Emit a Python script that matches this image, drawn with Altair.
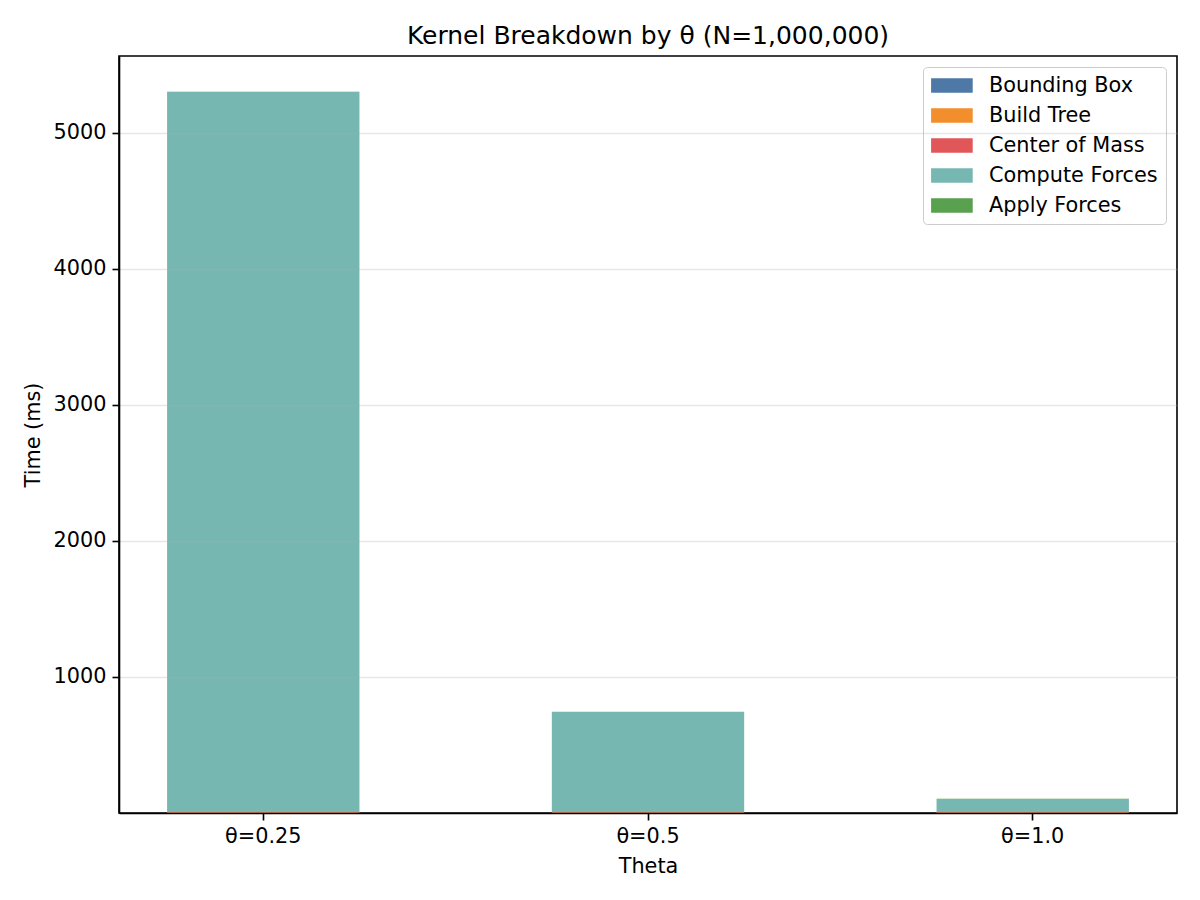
import altair as alt
import pandas as pd

thetas = ["θ=0.25", "θ=0.5", "θ=1.0"]
kernels = ["Bounding Box", "Build Tree", "Center of Mass", "Compute Forces", "Apply Forces"]
colors = ["#4e79a7", "#f28e2b", "#e15759", "#76b7b2", "#59a14f"]
bounding_box = [1.2, 1.2, 1.2]
build_tree = [4.0, 4.0, 4.0]
center_of_mass = [1.5, 1.5, 1.5]
compute_forces = [5295.0, 737.0, 97.0]
apply_forces = [0.6, 0.6, 0.6]
y_ticks = [1000, 2000, 3000, 4000, 5000]

series = [bounding_box, build_tree, center_of_mass, compute_forces, apply_forces]
rows = []
for ki, (k, vals) in enumerate(zip(kernels, series)):
    for t, v in zip(thetas, vals):
        rows.append({"theta": t, "kernel": k, "time": v, "order": ki})
df = pd.DataFrame(rows)

font = "DejaVu Sans"
fs = 20.8
lw = 1.6

common_axis = dict(labelFontSize=fs, titleFontSize=fs, labelColor="black", titleColor="black",
                   tickColor="black", domainColor="black", tickSize=7, tickWidth=lw,
                   domainWidth=lw, labelPadding=6, titleFontWeight="normal")

chart = alt.Chart(df).mark_bar(opacity=1).encode(
    x=alt.X("theta:N", sort=thetas,
            scale=alt.Scale(paddingInner=0.5, paddingOuter=0.125),
            axis=alt.Axis(title="Theta", labelAngle=0, titlePadding=11, grid=False, **common_axis)),
    y=alt.Y("time:Q", stack="zero",
            scale=alt.Scale(domain=[0, 5566], nice=False, zero=False),
            axis=alt.Axis(title="Time (ms)", values=y_ticks, format="d", titlePadding=10,
                          grid=True, gridColor="#b0b0b0", gridOpacity=0.3, gridWidth=1.5,
                          zindex=1, **common_axis)),
    color=alt.Color("kernel:N", sort=kernels,
                    scale=alt.Scale(domain=kernels, range=colors),
                    legend=alt.Legend(title=None, orient="top-right", offset=11,
                                      symbolType="M-1,-0.7H3V0.7H-1Z", symbolSize=433,
                                      symbolStrokeWidth=0, symbolOpacity=1,
                                      labelFontSize=fs, labelColor="black", labelOffset=37,
                                      labelLimit=400, rowPadding=8, padding=8,
                                      strokeColor="#cccccc", cornerRadius=4, fillColor="white")),
    order=alt.Order("order:Q", sort="ascending"),
).properties(
    width=1058, height=757,
    title=alt.TitleParams("Kernel Breakdown by θ (N=1,000,000)", fontSize=25,
                          fontWeight="normal", color="black", offset=7),
    autosize=alt.AutoSizeParams(type="none"),
    padding={"left": 111, "top": 48, "right": 15, "bottom": 79},
).configure(font=font).configure_view(stroke="black", strokeWidth=lw)

chart.save("out.html", embed_options={"renderer": "svg", "actions": False})
